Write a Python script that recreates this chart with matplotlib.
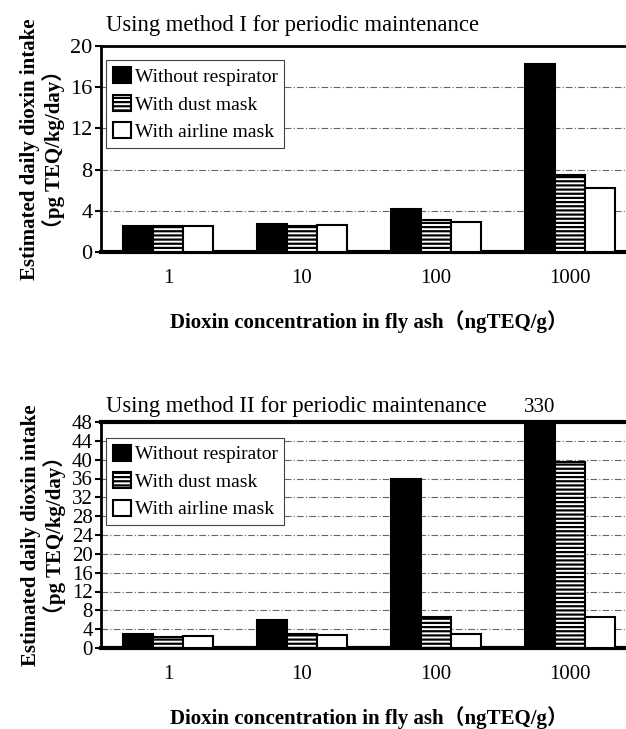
import matplotlib
matplotlib.use("Agg")
import matplotlib.pyplot as plt
import numpy as np

plt.rcParams['font.family'] = ['Liberation Serif', 'Noto Sans CJK JP']
plt.rcParams['hatch.linewidth'] = 1.6

categories = ["1", "10", "100", "1000"]
series = ["Without respirator", "With dust mask", "With airline mask"]

m1_without = [2.55, 2.75, 4.2, 18.3]
m1_dust = [2.55, 2.55, 3.1, 7.5]
m1_airline = [2.55, 2.6, 2.95, 6.2]

m2_without = [3.0, 5.95, 35.8, 330]
m2_dust = [2.3, 3.0, 6.5, 39.5]
m2_airline = [2.6, 2.75, 3.0, 6.6]

titles = ["Using method I for periodic maintenance",
          "Using method II for periodic maintenance"]
ylabel = "Estimated daily dioxin intake\n（pg TEQ/kg/day）"
xlabel = "Dioxin concentration in fly ash（ngTEQ/g）"

styles = [dict(facecolor="black", edgecolor="black", hatch=None),
          dict(facecolor="white", edgecolor="black", hatch="----"),
          dict(facecolor="white", edgecolor="black", hatch=None)]

W, H = 626, 729
fig = plt.figure(figsize=(W / 100, H / 100), dpi=100)

ax1 = fig.add_axes([101 / W, 1 - 252 / H, 536 / W, 206 / H])
ax2 = fig.add_axes([101 / W, 1 - 648 / H, 536 / W, 226 / H])

def draw(ax, data, ymax, step, title, tick_fs, title_y):
    x = np.arange(len(categories))
    bw = 0.225
    for i, (vals, st) in enumerate(zip(data, styles)):
        ax.bar(x + (i - 1) * bw, vals, width=bw, label=series[i],
               facecolor=st["facecolor"], edgecolor=st["edgecolor"],
               hatch=st["hatch"], linewidth=1.5, zorder=3)
    ax.set_xlim(-0.5, 3.5)
    ax.set_ylim(0, ymax)
    ax.set_yticks(np.arange(0, ymax + 1, step))
    ax.set_xticks(x)
    ax.set_xticklabels(categories, fontsize=15)
    ax.tick_params(axis='x', length=0, pad=12)
    ax.tick_params(axis='y', labelsize=tick_fs, length=4, width=1.5, pad=2)
    ax.yaxis.grid(True, linestyle=(0, (6, 2, 1, 2)), color="#666666", linewidth=0.8, zorder=0)
    for s in ax.spines.values():
        s.set_linewidth(2.0)
    ax.spines['bottom'].set_linewidth(3.0)
    ax.set_xlabel(xlabel, fontsize=15, fontweight="bold", labelpad=16)
    ax.set_ylabel(ylabel, fontsize=15, fontweight="bold", labelpad=4, linespacing=1.1)
    ax.text(0.01, title_y, title, transform=ax.transAxes, fontsize=16.3, ha="left", va="bottom")
    leg = ax.legend(loc="upper left", bbox_to_anchor=(0.01, 0.93), fontsize=14,
                    handlelength=0.9, handleheight=0.9, handletextpad=0.2,
                    labelspacing=0.45, borderpad=0.35, fancybox=False,
                    framealpha=1, edgecolor="#444444", borderaxespad=0)
    leg.get_frame().set_linewidth(0.8)

draw(ax1, [m1_without, m1_dust, m1_airline], 20, 4, titles[0], 16, 1.05)
draw(ax2, [m2_without, m2_dust, m2_airline], 48, 4, titles[1], 15, 1.02)
ax2.spines['top'].set_linewidth(3.0)
ax2.text(3 - 0.225, 1.02, str(m2_without[3]), transform=ax2.get_xaxis_transform(),
         ha="center", va="bottom", fontsize=15)

fig.savefig("out.png", dpi=100)
